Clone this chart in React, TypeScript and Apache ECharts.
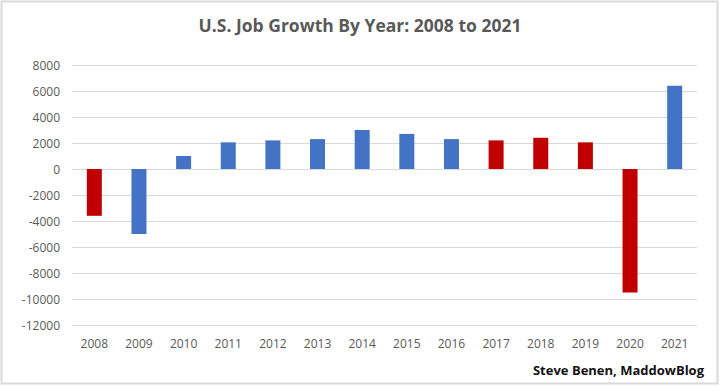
import React, { useEffect, useRef } from "react";
import * as echarts from "echarts";

const years = ["2008","2009","2010","2011","2012","2013","2014","2015","2016","2017","2018","2019","2020","2021"];
const jobs = [-3600, -5000, 1000, 2050, 2200, 2300, 3000, 2700, 2300, 2200, 2400, 2050, -9500, 6400];
const party = ["R","D","D","D","D","D","D","D","D","R","R","R","R","D"];
const yTicks = [-12000, -10000, -8000, -6000, -4000, -2000, 0, 2000, 4000, 6000, 8000];

const partyColor: Record<string, string> = { R: "#C00000", D: "#4472C4" };

export default function App() {
  const ref = useRef<HTMLDivElement>(null);
  useEffect(() => {
    document.body.style.margin = "0";
    const chart = echarts.init(ref.current!, undefined, { renderer: "svg" });
    chart.setOption({
      animation: false,
      backgroundColor: "#ffffff",
      title: {
        text: "U.S. Job Growth By Year: 2008 to 2021",
        left: "center",
        top: 11,
        textStyle: { fontFamily: "Open Sans", fontWeight: "bold", fontSize: 17.5, color: "#595959" },
      },
      grid: { left: 72, right: 23, top: 65, bottom: 61, containLabel: false },
      xAxis: {
        type: "category",
        data: years,
        axisLine: { show: false },
        axisTick: { show: false },
        axisLabel: { color: "#595959", fontFamily: "Open Sans", fontSize: 12, margin: 12 },
      },
      yAxis: {
        type: "value",
        min: yTicks[0],
        max: yTicks[yTicks.length - 1],
        interval: 2000,
        axisLine: { show: false },
        axisTick: { show: false },
        splitLine: { lineStyle: { color: "#d9d9d9", width: 1 } },
        axisLabel: {
          color: "#595959",
          fontFamily: "Open Sans",
          fontSize: 12,
          margin: 12,
          formatter: (v: number) => String(v),
        },
      },
      series: [
        {
          type: "bar",
          barWidth: 15,
          data: jobs.map((v, i) => ({ value: v, itemStyle: { color: partyColor[party[i]] } })),
        },
      ],
      graphic: [
        {
          type: "rect",
          shape: { x: 1.5, y: 1.5, width: 716, height: 382 },
          style: { fill: "none", stroke: "#d9d9d9", lineWidth: 2 },
          silent: true,
        },
        {
          type: "text",
          right: 16,
          top: 363,
          style: {
            text: "Steve Benen, MaddowBlog",
            font: "bold 13px 'Open Sans'",
            fill: "#111111",
          },
        },
      ],
    });
    return () => chart.dispose();
  }, []);
  return <div ref={ref} style={{ width: 720, height: 386, position: "absolute", left: 0, top: 0 }} />;
}
